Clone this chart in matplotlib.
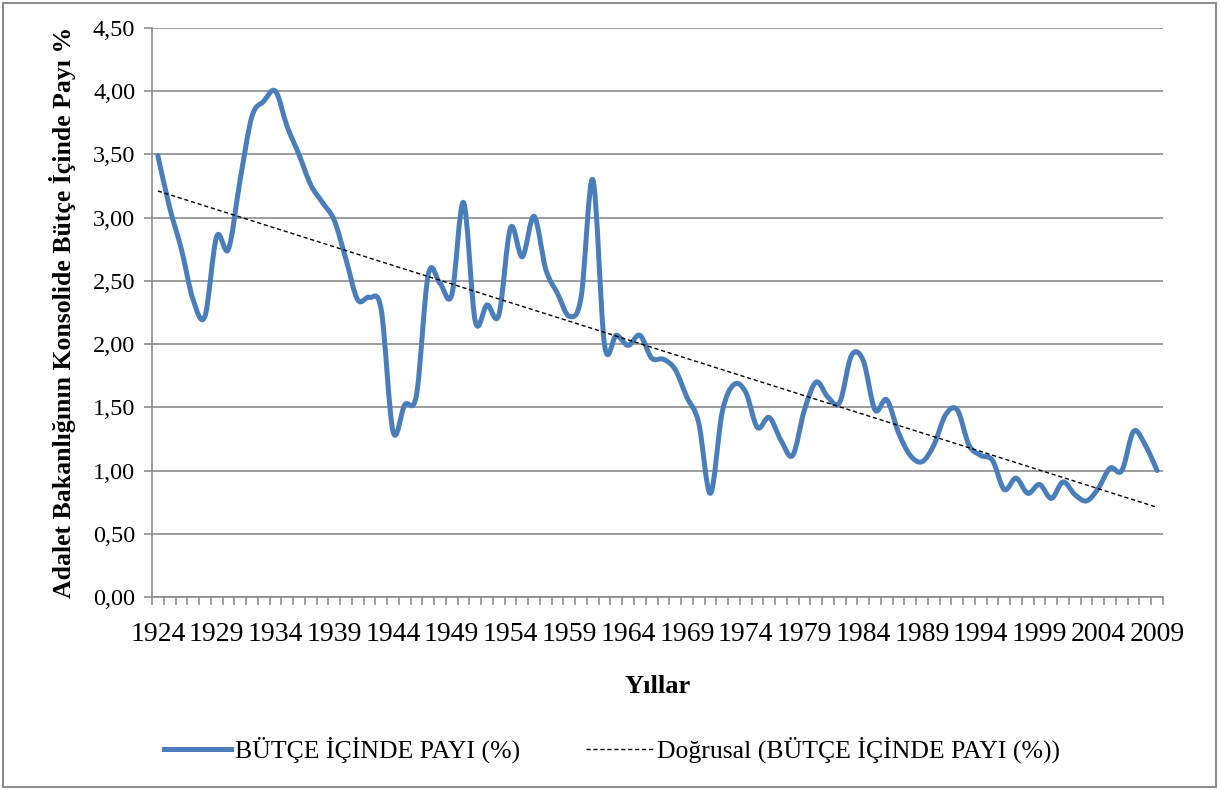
import matplotlib
matplotlib.use("Agg")
import matplotlib.pyplot as plt
import numpy as np
from matplotlib.lines import Line2D
from matplotlib.patches import PathPatch, Rectangle
from matplotlib.path import Path
from matplotlib.ticker import FuncFormatter, FixedLocator

years = list(range(1924, 2010))
share = [
    3.49, 3.08, 2.75, 2.35, 2.22, 2.85, 2.75, 3.30, 3.80, 3.92,
    4.00, 3.72, 3.50, 3.26, 3.12, 2.98, 2.67, 2.35, 2.37, 2.27,
    1.31, 1.52, 1.60, 2.55, 2.48, 2.39, 3.12, 2.18, 2.31, 2.23,
    2.92, 2.69, 3.01, 2.59, 2.40, 2.22, 2.37, 3.30, 1.99, 2.07,
    1.99, 2.07, 1.89, 1.88, 1.80, 1.58, 1.38, 0.82, 1.46, 1.68,
    1.62, 1.34, 1.42, 1.24, 1.12, 1.48, 1.70, 1.58, 1.54, 1.91,
    1.87, 1.48, 1.56, 1.30, 1.12, 1.07, 1.20, 1.44, 1.48, 1.20,
    1.12, 1.08, 0.85, 0.94, 0.82, 0.89, 0.78, 0.91, 0.81, 0.76,
    0.86, 1.02, 1.00, 1.31, 1.20, 1.00,
]
label_years = years[::5]

series_name = "BÜTÇE İÇİNDE PAYI (%)"
trend_name = "Doğrusal (BÜTÇE İÇİNDE PAYI (%))"

blue = "#4A7EBB"
grey = "#8C8C8C"

plt.rcParams["font.family"] = ["Liberation Serif", "DejaVu Serif"]

x = np.arange(len(years), dtype=float)
y = np.array(share)

fig = plt.figure(figsize=(12.21, 7.90), dpi=100)
ax = fig.add_axes([152 / 1221, 1 - 597 / 790, (1163 - 152) / 1221, (597 - 28) / 790])

# smoothed line like Excel (Catmull-Rom as cubic Bezier)
px = np.concatenate([[x[0]], x, [x[-1]]])
py = np.concatenate([[y[0]], y, [y[-1]]])
verts = [(x[0], y[0])]
codes = [Path.MOVETO]
for i in range(1, len(px) - 2):
    c1 = (px[i] + (px[i + 1] - px[i - 1]) / 6, py[i] + (py[i + 1] - py[i - 1]) / 6)
    c2 = (px[i + 1] - (px[i + 2] - px[i]) / 6, py[i + 1] - (py[i + 2] - py[i]) / 6)
    verts += [c1, c2, (px[i + 1], py[i + 1])]
    codes += [Path.CURVE4] * 3
ax.add_patch(PathPatch(Path(verts, codes), fill=False, edgecolor=blue,
                       lw=3.6, capstyle="round", joinstyle="round", zorder=3))

# linear trend
slope, icpt = np.polyfit(x, y, 1)
ax.plot(x, slope * x + icpt, color="black", lw=1.0, ls=(0, (3, 2)), zorder=4)

ax.set_xlim(-0.5, len(years) - 0.5)
ax.set_ylim(0, 4.5)
ax.set_yticks(np.arange(0, 4.51, 0.5))
ax.yaxis.set_major_formatter(FuncFormatter(lambda v, p: f"{v:.2f}".replace(".", ",")))
ax.grid(axis="y", color=grey, lw=1.2)
ax.set_axisbelow(True)

ax.set_xticks(x[::5])
ax.set_xticklabels([str(v) for v in label_years])
ax.xaxis.set_minor_locator(FixedLocator(np.arange(-0.5, len(years), 1.0)))
ax.tick_params(axis="x", which="major", length=0, labelsize=20, pad=18)
ax.tick_params(axis="x", which="minor", length=6, color=grey, width=1.2)
ax.tick_params(axis="y", length=6, color=grey, width=1.2, labelsize=17.5, pad=6)

for side in ["top", "right"]:
    ax.spines[side].set_visible(False)
for side in ["left", "bottom"]:
    ax.spines[side].set_color(grey)
    ax.spines[side].set_linewidth(1.2)

ax.set_ylabel("Adalet Bakanlığının Konsolide Bütçe İçinde Payı %",
              fontsize=18.5, fontweight="bold", labelpad=12)
ax.set_xlabel("Yıllar", fontsize=19, fontweight="bold", labelpad=20)

handles = [
    Line2D([], [], color=blue, lw=3.6),
    Line2D([], [], color="black", lw=1.0, ls=(0, (3, 2))),
]
fig.legend(handles, [series_name, trend_name], loc="center",
           bbox_to_anchor=(612 / 1221, 1 - 750 / 790), ncol=2, frameon=False,
           fontsize=18.5, handlelength=2.6, handletextpad=0.15, columnspacing=2.6)

fig.add_artist(Rectangle((3 / 1221, 3 / 790), 1213 / 1221, 784 / 790,
                         transform=fig.transFigure, fill=False,
                         edgecolor=grey, lw=1.5))

fig.savefig("out.png", dpi=100)
